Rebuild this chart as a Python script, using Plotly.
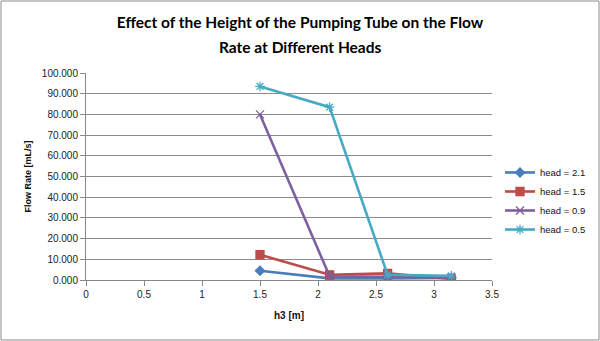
import plotly.graph_objects as go

h3 = [1.5, 2.1, 2.6, 3.15]
series_names = ["head = 2.1", "head = 1.5", "head = 0.9", "head = 0.5"]
flow_21 = [4.5, 0.8, 0.8, 1.0]
flow_15 = [12.2, 2.5, 3.2, 0.5]
flow_09 = [80.0, 1.8, 1.5, 1.2]
flow_05 = [93.5, 83.5, 2.5, 2.0]
y_ticks = [0, 10, 20, 30, 40, 50, 60, 70, 80, 90, 100]
x_ticks = [0, 0.5, 1, 1.5, 2, 2.5, 3, 3.5]
title_line1 = "Effect of the Height of the Pumping Tube on the Flow"
title_line2 = "Rate at Different Heads"

colors = ["#4A7EBB", "#BE4B48", "#7D60A0", "#46AAC5"]
symbols = ["diamond", "square", "x-thin-open", "asterisk-open"]
sizes = [7, 8, 8, 8]

fig = go.Figure()
for name, vals, c, s, sz in zip(series_names, [flow_21, flow_15, flow_09, flow_05], colors, symbols, sizes):
    fig.add_trace(go.Scatter(
        x=h3, y=vals, name=name, mode="lines+markers",
        line=dict(color=c, width=2.6),
        marker=dict(symbol=s, size=sz, color=c, line=dict(color=c, width=1.3)),
    ))

L, R, T, B = 86, 108, 73, 61
pw = 600 - L - R
ph = 341 - T - B
tfont = dict(family="Lato", size=15.5, color="#000", weight="bold")

fig.update_layout(
    width=600, height=341,
    margin=dict(l=L, r=R, t=T, b=B, autoexpand=False),
    paper_bgcolor="white", plot_bgcolor="white",
    font=dict(family="Liberation Sans, Arial", size=10, color="#333"),
    title=dict(
        text=title_line1,
        x=0.5, xanchor="center", y=1 - 23 / 341, yanchor="middle",
        font=tfont, pad=dict(l=0, r=0, t=0, b=0),
    ),
    xaxis=dict(
        range=[0, 3.5], tickvals=x_ticks, ticktext=[str(v) for v in x_ticks],
        showgrid=False, showline=True, linecolor="#888", linewidth=1,
        ticks="outside", ticklen=5, tickcolor="#888",
        tickfont=dict(size=10, color="#222"),
        title=dict(text="<b>h3 [m]</b>", font=dict(size=10, color="#111"), standoff=12),
        zeroline=False,
    ),
    yaxis=dict(
        range=[0, 100], tickvals=y_ticks, ticktext=[f"{v:.3f}" for v in y_ticks],
        showgrid=True, gridcolor="#8c8c8c", gridwidth=1,
        showline=True, linecolor="#888", linewidth=1,
        ticks="outside", ticklen=5, tickcolor="#888",
        tickfont=dict(size=10, color="#222"),
        title=dict(text="<b>Flow Rate [mL/s]</b>", font=dict(size=9, color="#111"), standoff=8),
        zeroline=False,
    ),
    legend=dict(
        x=(500 - L) / pw, y=(280 - 158) / ph, xanchor="left", yanchor="top",
        font=dict(size=9.5, color="#111"), bgcolor="rgba(0,0,0,0)",
        tracegroupgap=0, itemwidth=30,
    ),
    showlegend=True,
)

fig.add_annotation(text=title_line2, xref="paper", yref="paper",
                   x=(300 - L) / pw, y=(341 - B - 47) / ph, xanchor="center", yanchor="middle",
                   showarrow=False, font=tfont)

fig.add_shape(type="rect", xref="paper", yref="paper",
              x0=-(L - 1) / pw, x1=(599 - L) / pw,
              y0=-(B - 1) / ph, y1=(341 - 1 - B + 0) / ph,
              line=dict(color="#8a8a8a", width=1), fillcolor="rgba(0,0,0,0)", layer="below")

fig.write_html("out.html")
